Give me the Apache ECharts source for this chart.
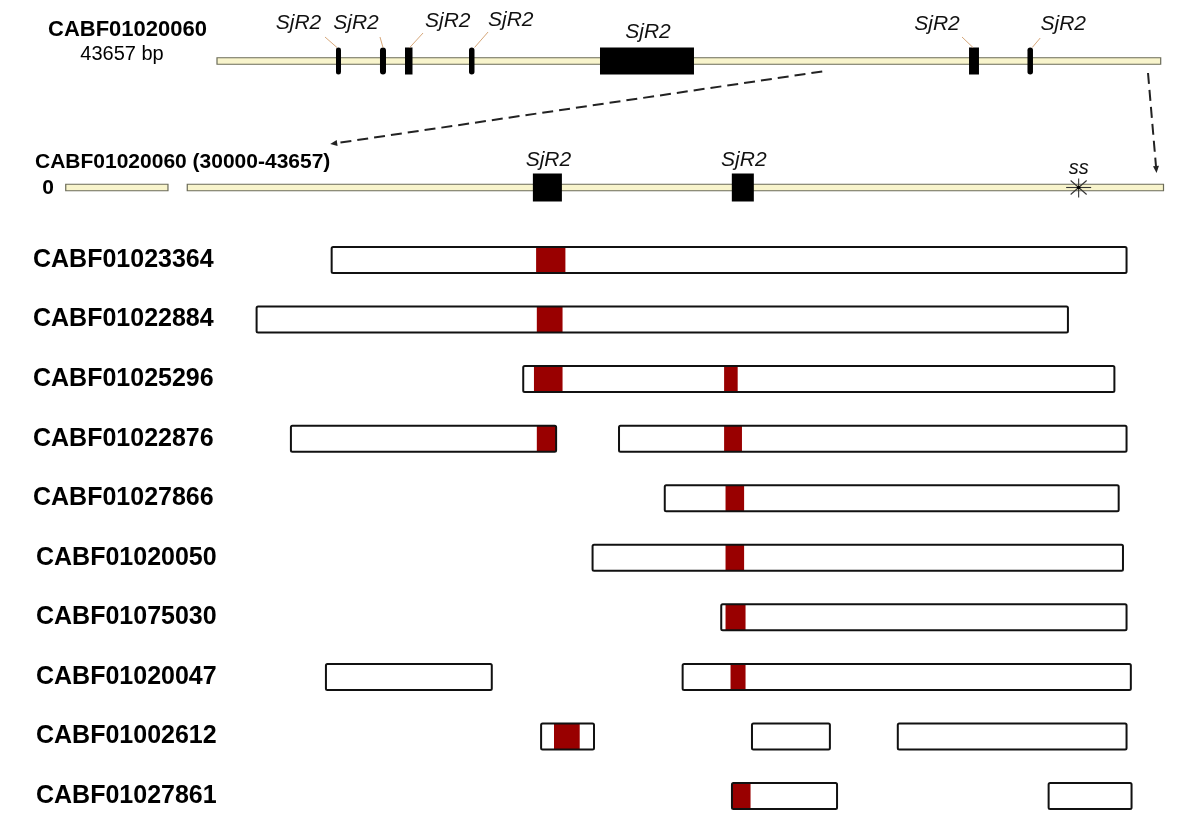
<!DOCTYPE html>
<html><head><meta charset="utf-8">
<script src="https://cdn.jsdelivr.net/npm/echarts@6/dist/echarts.min.js"></script>
<style>html,body{margin:0;padding:0;background:#fff}#c{width:1200px;height:815px}</style>
</head><body><div id="c"></div>
<script>
// ---------------- data (base pairs) ----------------
const overviewName = 'CABF01020060';
const overviewLengthLabel = '43657 bp';
const overviewLength = 43657;
const repeatName = 'SjR2';
const overviewRepeatStart = [5505, 7540, 8697, 11658, 17718, 34790, 37494];
const overviewRepeatEnd   = [5736, 7818, 9044, 11912, 22066, 35250, 37748];

const zoomName = 'CABF01020060 (30000-43657)';
const zoomStart = 30000;
const zoomEnd = 43657;
const breakLabel = '0';
const breakStub = [28300, 29730];
const zoomRepeatStart = [34835, 37618];
const zoomRepeatEnd   = [35241, 37926];
const ssName = 'ss';
const ssPosition = 42470;

const contigs = ['CABF01023364','CABF01022884','CABF01025296','CABF01022876','CABF01027866',
                 'CABF01020050','CABF01075030','CABF01020047','CABF01002612','CABF01027861'];
// [row, start, end]
const contigSegments = [
  [0, 32020, 43140],
  [1, 30970, 42320],
  [2, 34700, 42970],
  [3, 31450, 35160], [3, 36040, 43140],
  [4, 36680, 43030],
  [5, 35670, 43090],
  [6, 37470, 43140],
  [7, 31940, 34260], [7, 36930, 43200],
  [8, 34950, 35690], [8, 37900, 38990], [8, 39940, 43140],
  [9, 37620, 39090], [9, 42050, 43210]
];
// [row, start, end]
const sjr2Hits = [
  [0, 34880, 35290],
  [1, 34890, 35250],
  [2, 34850, 35250], [2, 37510, 37700],
  [3, 34890, 35160], [3, 37510, 37760],
  [4, 37530, 37790],
  [5, 37530, 37790],
  [6, 37530, 37810],
  [7, 37600, 37810],
  [8, 35130, 35490],
  [9, 37620, 37880]
];

// ---------------- styles / layout ----------------
const FONT = '"Liberation Sans", Arial, sans-serif';
const TRACK_FILL = '#f8f4cc', TRACK_STROKE = '#6b6b58';
const RED = '#990000';
const overviewMarkerRound = [true, true, false, true, false, false, true];
// label offset (dx, dy from marker top) and leader line (x1,y1 offsets, x2 offset)
const overviewLabelLayout = [
  {dx:-40, dy:-24, lead:[-13.5,-10.5,-1.5]},
  {dx:-27, dy:-24, lead:[-3,-10.5,0]},
  {dx:39,  dy:-26, lead:[14.3,-14.5,1]},
  {dx:39,  dy:-27, lead:[16.3,-15.5,2.8]},
  {dx:1,   dy:-15, lead:null},
  {dx:-37, dy:-23, lead:[-12,-10.5,-1]},
  {dx:33,  dy:-23, lead:[10,-9.5,2]}
];

const chart = echarts.init(document.getElementById('c'), null, {renderer:'canvas'});

function trackRender(params, api) {
  const s = api.coord([api.value(0), 0.5]);
  const e = api.coord([api.value(1), 0.5]);
  return {type:'rect', shape:{x:s[0], y:s[1]-3.25, width:e[0]-s[0], height:6.5},
          style:{fill:TRACK_FILL, stroke:TRACK_STROKE, lineWidth:1.2}};
}

const option = {
  animation: false,
  backgroundColor: '#fff',
  grid: [
    {left:217, right:39.3, top:43.5, height:35},
    {left:44.3, right:36.5, top:170, height:35},
    {left:44.3, right:36.5, top:260, height:536}
  ],
  xAxis: [
    {gridIndex:0, type:'value', min:0, max:overviewLength, show:false},
    {gridIndex:1, type:'value', min:28000, max:zoomEnd, show:false},
    {gridIndex:2, type:'value', min:28000, max:zoomEnd, show:false}
  ],
  yAxis: [
    {gridIndex:0, type:'value', min:0, max:1, show:false},
    {gridIndex:1, type:'value', min:0, max:1, show:false},
    {gridIndex:2, type:'category', data:contigs, inverse:true, boundaryGap:false,
     axisLine:{show:false}, axisTick:{show:false}, splitLine:{show:false},
     axisLabel:{align:'left', margin:11.3, interval:0,
       formatter:(v, i) => (i >= 5 ? '{b|' + v + '}' : '{a|' + v + '}'),
       rich:{
         a:{fontSize:25, fontWeight:'bold', fontFamily:FONT, color:'#000'},
         b:{fontSize:25, fontWeight:'bold', fontFamily:FONT, color:'#000', padding:[0,0,0,3]}
       }}}
  ],
  series: [
    // overview track
    {type:'custom', xAxisIndex:0, yAxisIndex:0, data:[[0, overviewLength]], renderItem:trackRender},
    // overview repeats
    {type:'custom', xAxisIndex:0, yAxisIndex:0,
     data: overviewRepeatStart.map((s, i) => [s, overviewRepeatEnd[i]]),
     renderItem(params, api) {
       const i = params.dataIndex;
       const s = api.coord([api.value(0), 0.5]);
       const e = api.coord([api.value(1), 0.5]);
       const w = Math.max(e[0] - s[0], 4.5);
       const top = s[1] - 13.5, h = 27;
       const cx = s[0] + w / 2;
       const L = overviewLabelLayout[i];
       const ch = [
         {type:'rect', shape:{x:s[0], y:top, width:w, height:h, r: overviewMarkerRound[i] ? w/2 : 0}, style:{fill:'#000'}},
         {type:'text', style:{text:repeatName, x:cx + L.dx, y:top + L.dy, align:'center', verticalAlign:'middle',
           fontSize:21, fontStyle:'italic', fontFamily:FONT, fill:'#111'}}
       ];
       if (L.lead) ch.push({type:'line', shape:{x1:cx + L.lead[0], y1:top + L.lead[1], x2:cx + L.lead[2], y2:top},
           style:{stroke:'#d6a77a', lineWidth:1}});
       return {type:'group', children:ch};
     }},
    // zoom track + stub
    {type:'custom', xAxisIndex:1, yAxisIndex:1, data:[[zoomStart, zoomEnd], breakStub], renderItem:trackRender},
    // zoom repeats
    {type:'custom', xAxisIndex:1, yAxisIndex:1,
     data: zoomRepeatStart.map((s, i) => [s, zoomRepeatEnd[i]]),
     renderItem(params, api) {
       const s = api.coord([api.value(0), 0.5]);
       const e = api.coord([api.value(1), 0.5]);
       const top = s[1] - 14;
       return {type:'group', children:[
         {type:'rect', shape:{x:s[0], y:top, width:e[0]-s[0], height:28}, style:{fill:'#000'}},
         {type:'text', style:{text:repeatName, x:(s[0]+e[0])/2 + 1, y:top - 13, align:'center', verticalAlign:'middle',
           fontSize:21, fontStyle:'italic', fontFamily:FONT, fill:'#111'}}
       ]};
     }},
    // ss site
    {type:'custom', xAxisIndex:1, yAxisIndex:1, data:[[ssPosition]],
     renderItem(params, api) {
       const p = api.coord([api.value(0), 0.5]);
       const st = {stroke:'#333', lineWidth:1.1};
       return {type:'group', children:[
         {type:'line', shape:{x1:p[0]-12.5, y1:p[1], x2:p[0]+12.5, y2:p[1]}, style:st},
         {type:'line', shape:{x1:p[0], y1:p[1]-9, x2:p[0], y2:p[1]+10}, style:st},
         {type:'line', shape:{x1:p[0]-8, y1:p[1]-7, x2:p[0]+8, y2:p[1]+7}, style:st},
         {type:'line', shape:{x1:p[0]-8, y1:p[1]+7, x2:p[0]+8, y2:p[1]-7}, style:st},
         {type:'circle', shape:{cx:p[0], cy:p[1], r:1.8}, style:{fill:'#000'}},
         {type:'text', style:{text:ssName, x:p[0], y:p[1]-19.5, align:'center', verticalAlign:'middle',
           fontSize:20, fontStyle:'italic', fontFamily:FONT, fill:'#111'}}
       ]};
     }},
    // contig segments (fill)
    {type:'custom', xAxisIndex:2, yAxisIndex:2, data:contigSegments,
     renderItem(params, api) {
       const s = api.coord([api.value(1), api.value(0)]);
       const e = api.coord([api.value(2), api.value(0)]);
       return {type:'rect', shape:{x:s[0], y:s[1]-13, width:e[0]-s[0], height:26}, style:{fill:'#fff'}};
     }},
    // SjR2 hits in contigs
    {type:'custom', xAxisIndex:2, yAxisIndex:2, data:sjr2Hits,
     renderItem(params, api) {
       const s = api.coord([api.value(1), api.value(0)]);
       const e = api.coord([api.value(2), api.value(0)]);
       return {type:'rect', shape:{x:s[0], y:s[1]-13, width:e[0]-s[0], height:26}, style:{fill:RED}};
     }},
    // contig segments (outline)
    {type:'custom', xAxisIndex:2, yAxisIndex:2, data:contigSegments,
     renderItem(params, api) {
       const s = api.coord([api.value(1), api.value(0)]);
       const e = api.coord([api.value(2), api.value(0)]);
       return {type:'rect', shape:{x:s[0], y:s[1]-13, width:e[0]-s[0], height:26, r:1.5},
               style:{fill:'none', stroke:'#111', lineWidth:2}};
     }}
  ]
};
chart.setOption(option);

// ---------- text labels and dashed zoom arrows ----------
function arrow(id, a, b) {
  const dx = b[0]-a[0], dy = b[1]-a[1], len = Math.hypot(dx, dy);
  const ux = dx/len, uy = dy/len, px = -uy, py = ux;
  const bx = b[0] - ux*7, by = b[1] - uy*7;
  return [
    {id:id+'l', type:'line', shape:{x1:a[0], y1:a[1], x2:bx, y2:by},
     style:{stroke:'#222', lineWidth:2, lineDash:[11,6]}},
    {id:id+'h', type:'polygon', shape:{points:[[b[0],b[1]],[bx+px*3,by+py*3],[bx-px*3,by-py*3]]},
     style:{fill:'#222'}}
  ];
}
const a1s = chart.convertToPixel({gridIndex:0}, [28000, 0.5]);
const a1e = chart.convertToPixel({gridIndex:1}, [32000, 0.5]);
const a2s = chart.convertToPixel({gridIndex:0}, [43070, 0.5]);
const a2e = chart.convertToPixel({gridIndex:1}, [43560, 0.5]);
const graphics = [
  {id:'t1', type:'text', x:127.5, y:30, style:{text:overviewName, align:'center', verticalAlign:'middle',
     fontSize:22, fontWeight:'bold', fontFamily:FONT, fill:'#000'}},
  {id:'t2', type:'text', x:122, y:54, style:{text:overviewLengthLabel, align:'center', verticalAlign:'middle',
     fontSize:20, fontFamily:FONT, fill:'#000'}},
  {id:'t3', type:'text', x:35, y:162, style:{text:zoomName, align:'left', verticalAlign:'middle',
     fontSize:21, fontWeight:'bold', fontFamily:FONT, fill:'#000'}},
  {id:'t4', type:'text', x:48, y:188.5, style:{text:breakLabel, align:'center', verticalAlign:'middle',
     fontSize:21, fontWeight:'bold', fontFamily:FONT, fill:'#000'}}
].concat(
  arrow('a1', [a1s[0], a1s[1]+10.5], [a1e[0], a1e[1]-43.5]),
  arrow('a2', [a2s[0], a2s[1]+12], [a2e[0], a2e[1]-14.5])
);
chart.setOption({graphic: graphics});
</script>
</body></html>
